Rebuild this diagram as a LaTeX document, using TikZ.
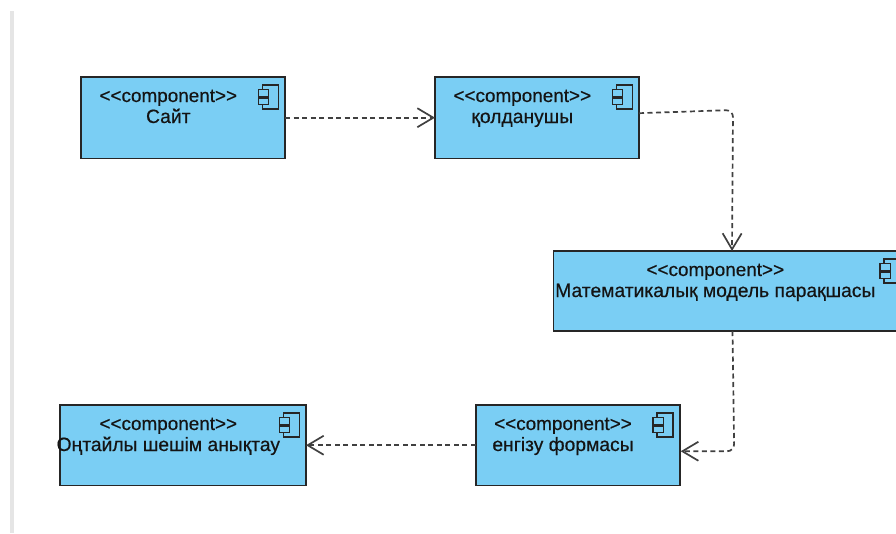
\documentclass[tikz,border=0pt]{standalone}
\usepackage{fontspec}
\setmainfont[FakeBold=0.5]{Liberation Sans}
\usetikzlibrary{arrows.meta,calc}
\tikzset{
  x=1pt,y=-1pt,
  compbox/.style={draw=black!85,line width=1.8pt,fill=compblue,anchor=north west,inner sep=0pt,outer sep=0pt},
  comptext/.style={text=black!92,inner sep=0pt,anchor=base},
  stereo/.style={comptext,font=\fontsize{18.9}{21}\selectfont},
  compname/.style={comptext,font=\fontsize{19.3}{21}\selectfont},
  icon/.style={draw=black!85,line width=1.4pt,fill=compblue},
  dep/.style={draw=black!75,line width=1.7pt,dash pattern=on 5pt off 3.5pt,rounded corners=7pt,
    -{Straight Barb[length=16pt,width=19pt,line width=1.7pt,black!75]}},
}
\definecolor{compblue}{HTML}{7ACEF4}
\newcommand{\compnode}[5]{%
  \node[compbox,minimum width=#3pt,minimum height=#5pt] (#1) at (#2) {};
  \node[stereo] (#1s) at ($(#1.north)+(-14.7,25)$) {<{}<component>{}>};
  \node[compname] (#1n) at ($(#1.north)+(-14.7,46)$) {#4};
  \draw[icon] ($(#1.north east)+(-22.6,8)$) rectangle ($(#1.north east)+(-6.6,32)$);
  \draw[icon] ($(#1.north east)+(-26.6,12.3)$) rectangle ($(#1.north east)+(-16.3,19.6)$);
  \draw[icon] ($(#1.north east)+(-26.6,20.8)$) rectangle ($(#1.north east)+(-16.3,27.4)$);
}
\begin{document}
\begin{tikzpicture}
\useasboundingbox (0,0) rectangle (896,533);
\fill[white] (0,0) rectangle (896,533);
\fill[black!10] (10,11) rectangle (13.5,533);
\compnode{site}{81,77}{204}{Сайт}{81.4}
\compnode{user}{435,77}{204}{қолданушы}{81.4}
\compnode{math}{553.5,251}{353}{Математикалық модель парақшасы}{80}
\compnode{input}{475.7,405}{204}{енгізу формасы}{80.5}
\compnode{best}{60,405}{246}{Оңтайлы шешім анықтау}{80.5}
\draw[dep] (site.east) -- (user.west);
\coordinate (ucorner) at ($(user.north east)+(94,33)$);
\coordinate (minto) at ($(math.north west)+(178.5,0)$);
\draw[dep] ($(user.east)+(0,-4.5)$) -- (ucorner) -- (minto);
\coordinate (mout) at ($(math.south west)+(179,0)$);
\coordinate (icorner) at ($(input.east)+(54.5,6)$);
\draw[dep] (mout) -- (icorner) -- ($(input.east)+(1,6)$);
\draw[dep] (input.west) -- (best.east);
\end{tikzpicture}
\end{document}
